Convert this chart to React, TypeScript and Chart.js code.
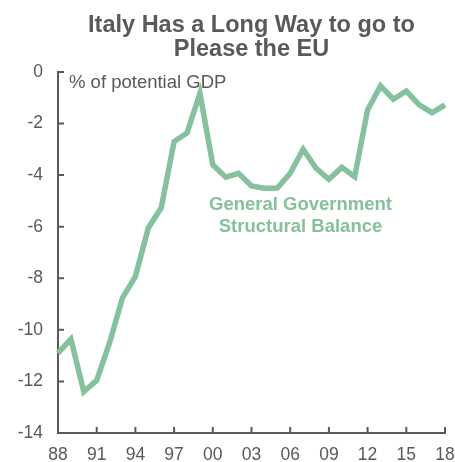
import React, { useEffect, useRef } from "react";
import { Chart, registerables } from "chart.js";

Chart.register(...registerables);

const years: number[] = [
  1988, 1989, 1990, 1991, 1992, 1993, 1994, 1995, 1996, 1997, 1998, 1999, 2000,
  2001, 2002, 2003, 2004, 2005, 2006, 2007, 2008, 2009, 2010, 2011, 2012, 2013,
  2014, 2015, 2016, 2017, 2018,
];
const structuralBalance: number[] = [
  -10.9, -10.36, -12.4, -11.96, -10.5, -8.76, -7.93, -6.05, -5.27, -2.7, -2.37,
  -0.83, -3.6, -4.08, -3.93, -4.42, -4.51, -4.5, -3.93, -3.0, -3.73, -4.16, -3.7,
  -4.06, -1.47, -0.54, -1.06, -0.74, -1.28, -1.58, -1.28,
];
const titleLines: string[] = ["Italy Has a Long Way to go to", "Please the EU"];
const unitLabel = "% of potential GDP";
const seriesLabel: string[] = ["General Government", "Structural Balance"];

const GRAY = "#595959";
const GREEN = "#84c19c";
const FONT = "'Liberation Sans', Arial, sans-serif";

export default function App() {
  const ref = useRef<HTMLCanvasElement | null>(null);

  useEffect(() => {
    if (!ref.current) return;

    const innerTicks = {
      id: "innerTicks",
      afterDatasetsDraw(chart: any) {
        const { ctx } = chart;
        const xs = chart.scales.x;
        const ys = chart.scales.y;
        const area = chart.chartArea;
        ctx.save();
        ctx.strokeStyle = GRAY;
        ctx.lineWidth = 2;
        ctx.beginPath();
        xs.ticks.forEach((t: any) => {
          const px = xs.getPixelForValue(t.value);
          ctx.moveTo(px, area.bottom);
          ctx.lineTo(px, area.bottom - 6);
        });
        ys.ticks.forEach((t: any) => {
          const py = ys.getPixelForValue(t.value);
          ctx.moveTo(area.left, py);
          ctx.lineTo(area.left + 6, py);
        });
        ctx.stroke();

        ctx.fillStyle = GRAY;
        ctx.font = `18.5px ${FONT}`;
        ctx.textAlign = "left";
        ctx.textBaseline = "middle";
        ctx.fillText(unitLabel, area.left + 11, ys.getPixelForValue(-0.42));

        ctx.fillStyle = GREEN;
        ctx.font = `bold 18.5px ${FONT}`;
        ctx.textAlign = "center";
        const cx = xs.getPixelForValue(2006.8);
        ctx.fillText(seriesLabel[0], cx, ys.getPixelForValue(-5.15));
        ctx.fillText(seriesLabel[1], cx, ys.getPixelForValue(-6.02));
        ctx.restore();
      },
    };

    const chart = new Chart(ref.current, {
      type: "line",
      data: {
        datasets: [
          {
            data: years.map((y, i) => ({ x: y, y: structuralBalance[i] })),
            borderColor: GREEN,
            borderWidth: 5.5,
            pointRadius: 0,
            tension: 0,
            clip: false as any,
          },
        ],
      },
      options: {
        animation: false,
        responsive: false,
        layout: { padding: { left: 0, right: 10, top: 0, bottom: 0 } },
        plugins: {
          legend: { display: false },
          tooltip: { enabled: false },
          title: {
            display: true,
            text: titleLines,
            color: GRAY,
            font: { family: FONT, size: 23.5, weight: "bold", lineHeight: 1.02 },
            padding: { top: 14, bottom: 10 },
            fullSize: false,
          },
        },
        scales: {
          x: {
            type: "linear",
            min: 1988,
            max: 2018,
            grid: { display: false, drawTicks: false },
            border: { display: true, color: GRAY, width: 2 },
            afterFit: (s: any) => {
              s.height = 29;
              s.paddingRight = 0;
              s.paddingLeft = 0;
            },
            ticks: {
              stepSize: 3,
              color: GRAY,
              padding: 11.5,
              maxRotation: 0,
              autoSkip: false,
              font: { family: FONT, size: 17.5 },
              callback: (v: any) => String(Number(v) % 100).padStart(2, "0"),
            },
          },
          y: {
            min: -14,
            max: 0,
            grid: { display: false, drawTicks: false },
            border: { display: true, color: GRAY, width: 2 },
            afterFit: (s: any) => {
              s.width = 58;
            },
            ticks: {
              stepSize: 2,
              color: GRAY,
              padding: 15,
              font: { family: FONT, size: 17.5 },
            },
          },
        },
      },
      plugins: [innerTicks],
    });
    return () => chart.destroy();
  }, []);

  return (
    <div style={{ position: "absolute", left: 0, top: 0, width: 455, height: 462 }}>
      <canvas ref={ref} width={455} height={462} style={{ width: 455, height: 462 }} />
    </div>
  );
}
